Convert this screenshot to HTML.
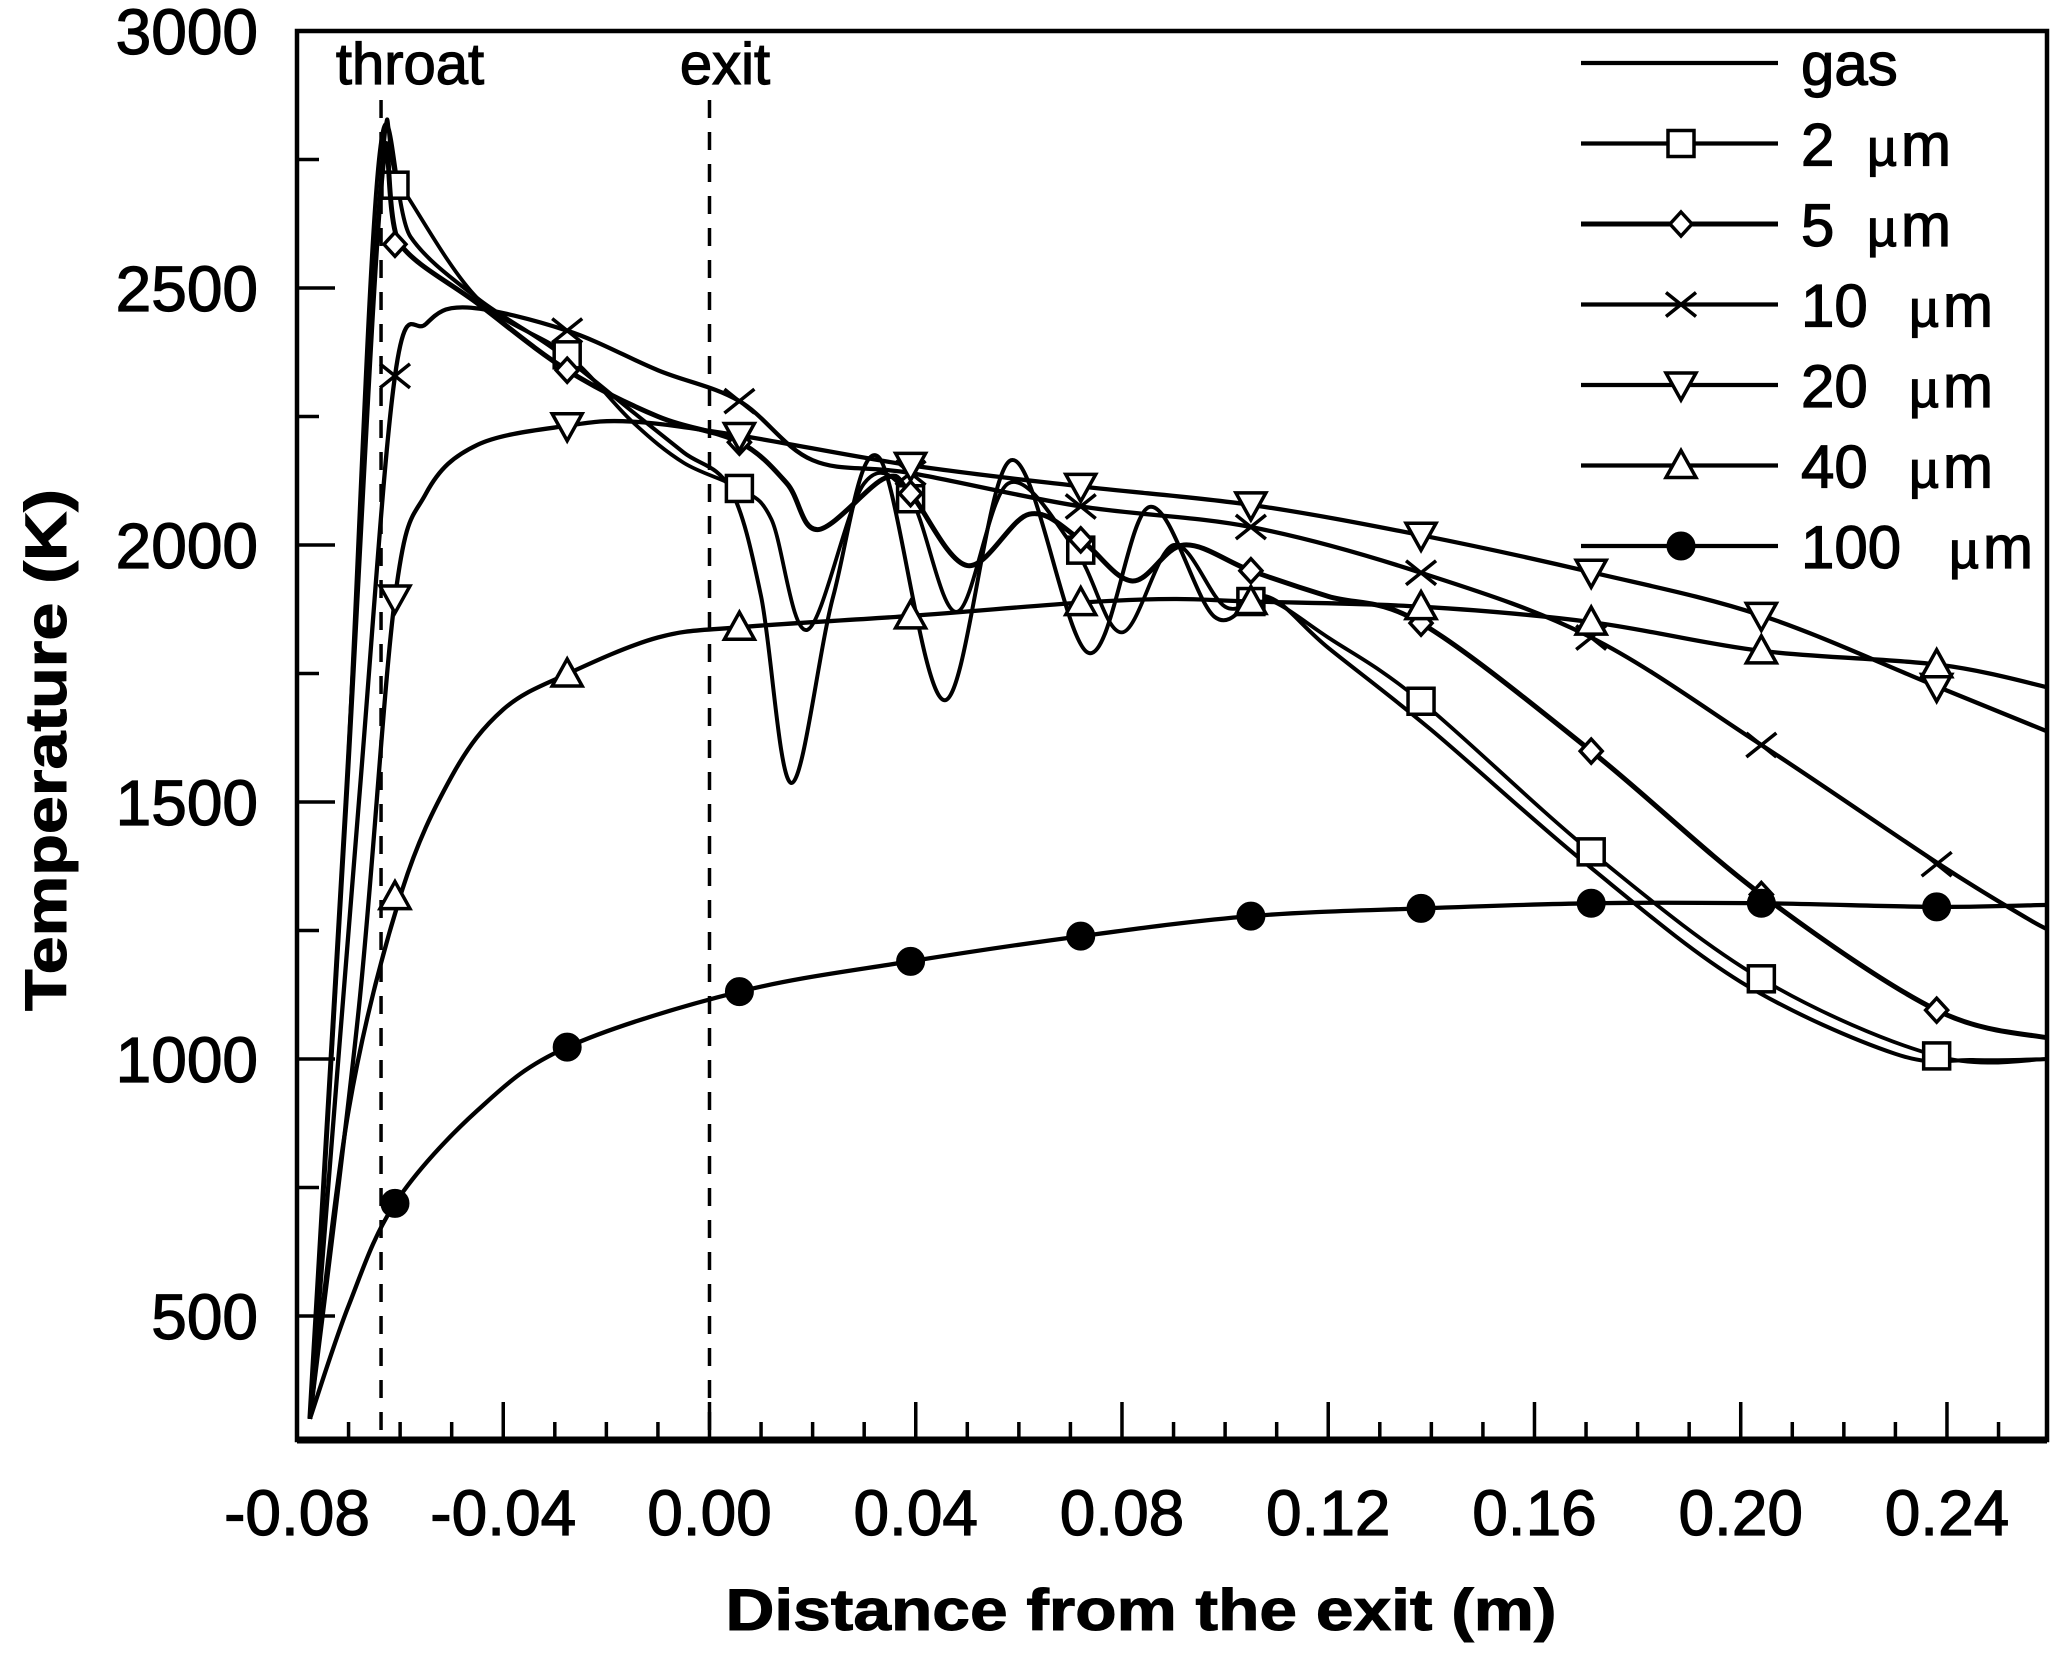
<!DOCTYPE html>
<html><head><meta charset="utf-8"><style>
html,body{margin:0;padding:0;background:#fff;}
svg{display:block;font-family:"Liberation Sans",Arial,sans-serif;}
</style></head><body>
<svg id="chart" width="2068" height="1653" viewBox="0 0 2068 1653" xmlns="http://www.w3.org/2000/svg">
<rect x="0" y="0" width="2068" height="1653" fill="#fff"/>
<g id="plot"></g>
</svg>
<script>
// ---- data ----
const xTicks = [-0.08,-0.04,0.00,0.04,0.08,0.12,0.16,0.20,0.24];
const xTickLabels = ["-0.08","-0.04","0.00","0.04","0.08","0.12","0.16","0.20","0.24"];
const yTicks = [500,1000,1500,2000,2500,3000];
const yTickLabels = ["500","1000","1500","2000","2500","3000"];
const throatX = -0.0637;
const exitX = 0.0;
const markerXs = [-0.061,-0.0276,0.0058,0.039,0.072,0.105,0.138,0.171,0.204,0.238];

const gasX = [-0.0775,-0.0705,-0.0640,-0.058,-0.045,-0.030,-0.015,-0.005,0.004,0.010,0.0159,0.024,0.0328,0.0456,0.0585,0.0735,0.0853,0.098,0.108,0.120,0.140,0.170,0.200,0.230,0.245,0.26];
const gasY = [300,1500,2760,2600,2480,2380,2260,2180,2110,1900,1537,1900,2171,1698,2165,1790,2074,1860,1900,1800,1640,1380,1150,1010,998,1000];

const um2X = [-0.0775,-0.0705,-0.0635,-0.060,-0.045,-0.0276,-0.015,-0.005,0.0058,0.012,0.019,0.030,0.039,0.048,0.058,0.071,0.080,0.090,0.100,0.108,0.120,0.138,0.171,0.204,0.238,0.26];
const um2Y = [300,1500,2740,2700,2480,2370,2240,2160,2110,2050,1835,2120,2090,1870,2120,1990,1830,2000,1880,1895,1820,1696,1403,1156,1006,1000];
const um2M = [2700,2370,2110,2090,1990,1890,1696,1403,1156,1006];

const um5X = [-0.0775,-0.0705,-0.0635,-0.060,-0.045,-0.0276,-0.010,0.0058,0.015,0.021,0.034,0.039,0.050,0.062,0.072,0.082,0.092,0.105,0.120,0.138,0.171,0.204,0.238,0.26];
const um5Y = [300,1500,2720,2585,2470,2340,2250,2200,2120,2030,2130,2100,1960,2060,2010,1930,2000,1950,1900,1848,1599,1320,1095,1040];
const um5M = [2585,2340,2200,2100,2010,1950,1848,1599,1320,1095];

const um10X = [-0.0775,-0.068,-0.061,-0.055,-0.047,-0.0276,-0.010,0.0058,0.020,0.039,0.072,0.105,0.138,0.171,0.204,0.2385,0.2555,0.26];
const um10Y = [300,1500,2329,2430,2462,2417,2340,2280,2165,2140,2075,2035,1946,1820,1611,1379,1274,1250];
const um10M = [2329,2417,2280,2140,2075,2035,1946,1820,1611,1379];

const um20X = [-0.0775,-0.068,-0.061,-0.055,-0.045,-0.0276,-0.015,0.0058,0.039,0.072,0.105,0.138,0.171,0.204,0.238,0.26];
const um20Y = [300,1100,1897,2100,2195,2232,2240,2213,2155,2114,2078,2019,1947,1863,1725,1635];
const um20M = [1897,2232,2213,2155,2114,2078,2019,1947,1863,1725];

const um40X = [-0.0775,-0.070,-0.060,-0.050,-0.040,-0.0276,-0.010,0.0058,0.039,0.072,0.090,0.105,0.138,0.171,0.204,0.2385,0.26];
const um40Y = [300,900,1316,1550,1680,1749,1820,1840,1862,1888,1895,1890,1880,1850,1794,1767,1722];
const um40M = [1316,1749,1840,1862,1888,1890,1880,1850,1794,1767];

const um100X = [-0.0775,-0.070,-0.061,-0.045,-0.0276,0.0058,0.039,0.072,0.105,0.138,0.171,0.204,0.238,0.26];
const um100Y = [300,520,719,900,1023,1131,1190,1239,1278,1293,1303,1303,1296,1300];
const um100M = [719,1023,1131,1190,1239,1278,1293,1303,1303,1296];

// ---- layout ----
const L=297, R=2047, T=31, B=1440;
const xMin=-0.08, xMax=0.2594, yMaxV=3000, yPerPx=0.514;
function sx(v){return L+(v-xMin)/(xMax-xMin)*(R-L);}
function sy(v){return T+(yMaxV-v)*yPerPx;}
const NS="http://www.w3.org/2000/svg";
const plot=document.getElementById('plot');
function el(tag,attrs,parent){const e=document.createElementNS(NS,tag);for(const k in attrs)e.setAttribute(k,attrs[k]);(parent||plot).appendChild(e);return e;}

function smoothPath(xs,ys){
  const p=xs.map((x,i)=>[sx(x),sy(ys[i])]);
  let d="M"+p[0][0].toFixed(1)+","+p[0][1].toFixed(1);
  for(let i=0;i<p.length-1;i++){
    const p0=p[i-1]||p[i],p1=p[i],p2=p[i+1],p3=p[i+2]||p2;
    const t=1/6;
    const c1=[p1[0]+(p2[0]-p0[0])*t,p1[1]+(p2[1]-p0[1])*t];
    const c2=[p2[0]-(p3[0]-p1[0])*t,p2[1]-(p3[1]-p1[1])*t];
    d+=" C"+c1[0].toFixed(1)+","+c1[1].toFixed(1)+" "+c2[0].toFixed(1)+","+c2[1].toFixed(1)+" "+p2[0].toFixed(1)+","+p2[1].toFixed(1);
  }
  return d;
}

function drawMarker(type,cx,cy,g){
  let m;
  const sw=3.5;
  if(type==="square"){m=el('rect',{x:cx-13,y:cy-13,width:26,height:26,fill:'#fff',stroke:'#000','stroke-width':sw},g);}
  else if(type==="diamond"){m=el('polygon',{points:`${cx},${cy-12} ${cx+11},${cy} ${cx},${cy+12} ${cx-11},${cy}`,fill:'#fff',stroke:'#000','stroke-width':sw},g);}
  else if(type==="x"){m=el('path',{d:`M${cx-15},${cy-12} L${cx+15},${cy+12} M${cx-15},${cy+12} L${cx+15},${cy-12}`,fill:'none',stroke:'#000','stroke-width':sw},g);}
  else if(type==="tridown"){m=el('polygon',{points:`${cx-15},${cy-12} ${cx+15},${cy-12} ${cx},${cy+15}`,fill:'#fff',stroke:'#000','stroke-width':sw},g);}
  else if(type==="triup"){m=el('polygon',{points:`${cx-15},${cy+12} ${cx+15},${cy+12} ${cx},${cy-15}`,fill:'#fff',stroke:'#000','stroke-width':sw},g);}
  else if(type==="circle"){m=el('circle',{cx:cx,cy:cy,r:14,fill:'#000',stroke:'#000','stroke-width':1},g);}
  return m;
}

// frame
const frame=el('rect',{x:L,y:T,width:R-L,height:B-T,fill:'none',stroke:'#000','stroke-width':4.5});


const xAxisLine=el('line',{x1:L,y1:B,x2:R,y2:B,stroke:'#000','stroke-width':7});



// x ticks
const xt=el('g',{});


for(let k=-8;k<=25;k++){
  const v=k/100;const X=sx(v);
  const major=(k%4===0);
  el('line',{x1:X,y1:B,x2:X,y2:B-(major?38:18),stroke:'#000','stroke-width':3.5},xt);
}
xTicks.forEach((v,i)=>{
  const t=el('text',{x:sx(v),y:1535,'text-anchor':'middle','font-size':64,fill:'#000',stroke:'#000','stroke-width':1.2},xt);
  t.textContent=xTickLabels[i];
  
  
});
// y ticks
const yt=el('g',{});


for(let v=500;v<=3000;v+=250){
  const Y=sy(v);const major=(v%500===0);
  if(v<3000) el('line',{x1:L,y1:Y,x2:L+(major?38:22),y2:Y,stroke:'#000','stroke-width':3.5},yt);
}
yTicks.forEach((v,i)=>{
  const t=el('text',{x:258,y:sy(v)+23,'text-anchor':'end','font-size':64,fill:'#000',stroke:'#000','stroke-width':1.2},yt);
  t.textContent=yTickLabels[i];
  
  
});

// titles
const xTitle=el('text',{x:1141,y:1630,'text-anchor':'middle','font-size':58,'font-weight':'bold',textLength:831,lengthAdjust:'spacingAndGlyphs',fill:'#000',stroke:'#000','stroke-width':1});
xTitle.textContent="Distance from the exit (m)";


const yTitle=el('text',{x:0,y:0,'text-anchor':'middle','font-size':58,'font-weight':'bold',textLength:522,lengthAdjust:'spacingAndGlyphs',fill:'#000',stroke:'#000','stroke-width':1,transform:'translate(66,750) rotate(-90)'});
yTitle.textContent="Temperature (K)";



// reference lines
const thr=el('line',{x1:sx(throatX),y1:100,x2:sx(throatX),y2:B,stroke:'#000','stroke-width':3.5,'stroke-dasharray':'18,14'});


const ex=el('line',{x1:sx(exitX),y1:100,x2:sx(exitX),y2:B,stroke:'#000','stroke-width':3.5,'stroke-dasharray':'18,14'});


const thrT=el('text',{x:410,y:84,'text-anchor':'middle','font-size':58,fill:'#000',stroke:'#000','stroke-width':1.2});
thrT.textContent="throat";


const exT=el('text',{x:725,y:84,'text-anchor':'middle','font-size':58,fill:'#000',stroke:'#000','stroke-width':1.2});
exT.textContent="exit";



// series
const series=[
 {name:'gas',xs:gasX,ys:gasY,m:null,type:null,w:4},
 {name:'2-um',xs:um2X,ys:um2Y,m:um2M,type:'square',w:3.8},
 {name:'5-um',xs:um5X,ys:um5Y,m:um5M,type:'diamond',w:5},
 {name:'10-um',xs:um10X,ys:um10Y,m:um10M,type:'x',w:4.3},
 {name:'20-um',xs:um20X,ys:um20Y,m:um20M,type:'tridown',w:4.3},
 {name:'40-um',xs:um40X,ys:um40Y,m:um40M,type:'triup',w:4.3},
 {name:'100-um',xs:um100X,ys:um100Y,m:um100M,type:'circle',w:4.3}
];
const clip=el('clipPath',{id:'pc'});
el('rect',{x:L,y:T,width:R-L,height:B-T},clip);
series.forEach(s=>{
  const g=el('g',{'clip-path':'url(#pc)'});
  
  
  const p=el('path',{d:smoothPath(s.xs,s.ys),fill:'none',stroke:'#000','stroke-width':s.w,'stroke-linejoin':'round'},g);
  
  
  if(s.m){
    s.m.forEach((v,i)=>{
      const mk=drawMarker(s.type,sx(markerXs[i]),sy(v),g);
      
      
    });
  }
});

// legend
const legendNums=["gas","2","5","10","20","40","100"];
const legendTypes=[null,'square','diamond','x','tridown','triup','circle'];
const lg=el('g',{});


legendNums.forEach((lab,i)=>{
  const y=63+i*80.5;
  const e=el('g',{},lg);
  
  
  el('line',{x1:1581,y1:y,x2:1778,y2:y,stroke:'#000','stroke-width':i===2?5:4.3},e);
  if(legendTypes[i]) drawMarker(legendTypes[i],1681,y,e);
  const t=el('text',{x:1801,y:y+22,'font-size':60,fill:'#000',stroke:'#000','stroke-width':1.2},e);
  if(i===0){t.textContent=lab;}
  else{
    const a=document.createElementNS(NS,'tspan');a.textContent=lab;t.appendChild(a);
    const off=lab.length===1?66:(lab.length===2?108:148);
    const b=document.createElementNS(NS,'tspan');b.setAttribute('x',1801+off);b.setAttribute('font-size','52');b.textContent="\u00B5";t.appendChild(b);
    const c=document.createElementNS(NS,'tspan');c.setAttribute('dx','4');c.textContent="m";t.appendChild(c);
  }
});
</script>
</body></html>
